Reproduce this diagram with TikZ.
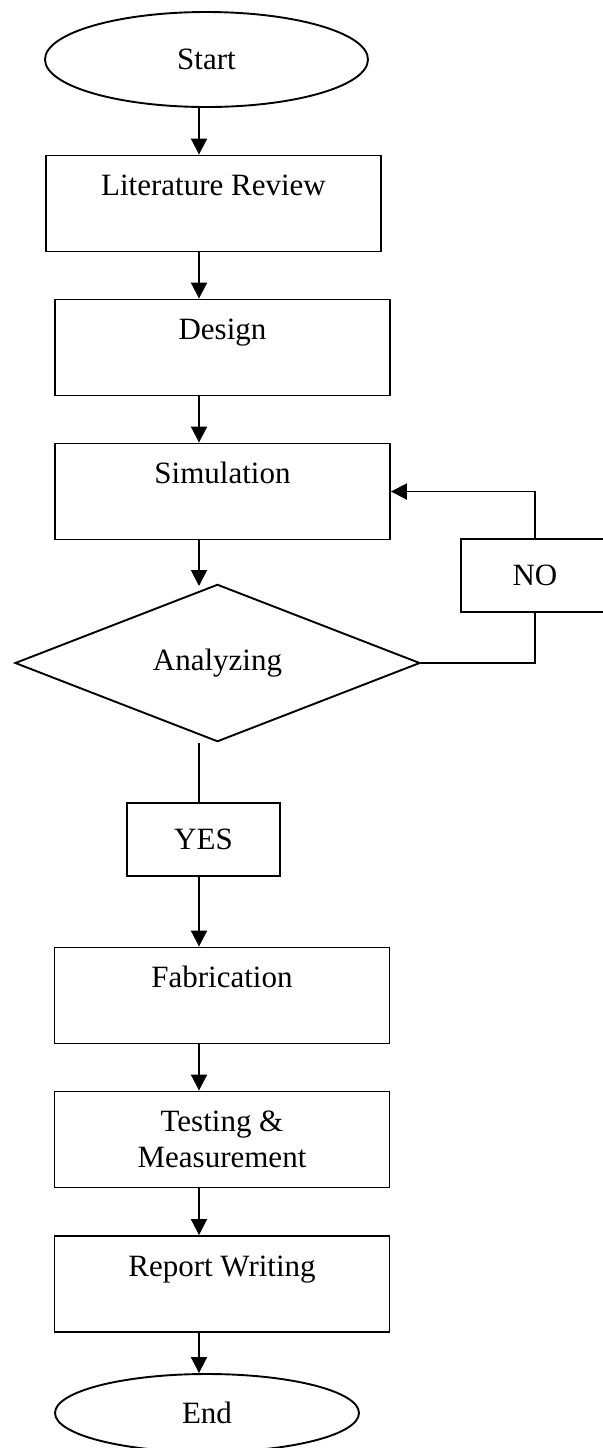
\documentclass[tikz,border=0pt]{standalone}
\usepackage{fontspec}
\setmainfont{Liberation Serif}
\usetikzlibrary{arrows.meta,shapes.geometric}

\begin{document}
\begin{tikzpicture}[x=0.5pt, y=-0.5pt, line width=0.95pt,
  >={Triangle[width=8pt,length=8pt]},
  every node/.style={font=\fontsize{15.5}{18}\selectfont},
  termbox/.style={draw,ellipse,inner sep=0pt},
  procbox/.style={draw,rectangle,minimum width=167.5pt,inner sep=0pt,
    text height=20pt,text depth=28pt,align=center},
  decbox/.style={draw,diamond,minimum width=202.5pt,minimum height=69pt,inner sep=0pt},
  tagbox/.style={draw,rectangle,minimum height=36.5pt,inner sep=0pt}]
\useasboundingbox (0,0) rectangle (603,1448);
\coordinate (sp) at (199,0);
\node[termbox,minimum width=161.5pt,minimum height=47.5pt] (start) at (206.5,59.5) {Start};
\node[procbox] (lit) at (213.5,203.5) {Literature Review};
\node[procbox] (des) at (222.5,347.5) {Design};
\node[procbox] (sim) at (222.5,491.5) {Simulation};
\node[decbox] (an) at (217.5,663) {Analyzing};
\node[tagbox,minimum width=74pt] (no) at (535,575.5) {NO};
\node[tagbox,minimum width=76.5pt] (yes) at (203.5,839.5) {YES};
\node[procbox] (fab) at (222,995.5) {Fabrication};
\node[procbox,text height=38pt,text depth=10pt] (test) at (222,1139.5) {Testing \&\\Measurement};
\node[procbox] (rep) at (222,1284) {Report Writing};
\node[termbox,minimum width=152pt,minimum height=39pt] (end) at (207,1413) {End};
\coordinate (simend) at (199,586);
\draw[->] (start.south -| sp) -- (lit.north -| sp);
\draw[->] (lit.south -| sp) -- (des.north -| sp);
\draw[->] (des.south -| sp) -- (sim.north -| sp);
\draw[->] (sim.south -| sp) -- (simend);
\draw (an.east) -| (no.south);
\draw[->] (no.north) |- (sim.east);
\draw (an.south -| sp) -- (yes.north -| sp);
\draw[->] (yes.south -| sp) -- (fab.north -| sp);
\draw[->] (fab.south -| sp) -- (test.north -| sp);
\draw[->] (test.south -| sp) -- (rep.north -| sp);
\draw[->] (rep.south -| sp) -- (end.north -| sp);
\end{tikzpicture}
\end{document}
